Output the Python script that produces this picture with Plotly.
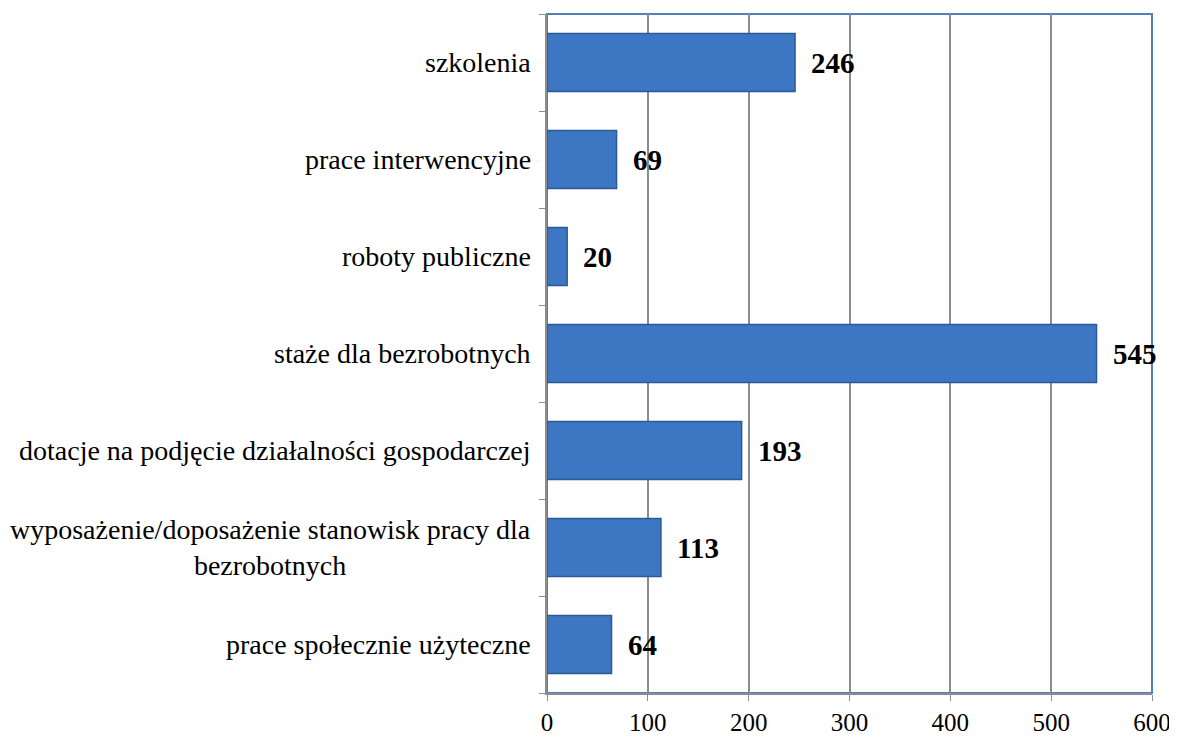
import plotly.graph_objects as go

# categories bottom -> top, as in the chart
kategorie = [
    "prace społecznie użyteczne",
    "wyposażenie/doposażenie stanowisk pracy dla<br>bezrobotnych",
    "dotacje na podjęcie działalności gospodarczej",
    "staże dla bezrobotnych",
    "roboty publiczne",
    "prace interwencyjne",
    "szkolenia",
]
liczba = [64, 113, 193, 545, 20, 69, 246]
x_ticks = [0, 100, 200, 300, 400, 500, 600]

font_name = "Liberation Serif, Times New Roman, serif"

fig = go.Figure()
fig.add_trace(go.Bar(
    x=liczba, y=kategorie, orientation="h", width=0.6,
    marker=dict(color="#3D77C3", line=dict(color="#2B5A94", width=1.5)),
    hoverinfo="x+y",
))

for k, v in zip(kategorie, liczba):
    # value labels, bold, a bit right of the bar end
    fig.add_annotation(x=v, y=k, text="<b>%d</b>" % v, showarrow=False,
                       xanchor="left", xshift=14,
                       font=dict(family=font_name, size=29, color="black"))
    # category labels (centered lines, right-aligned block)
    fig.add_annotation(x=0, xref="paper", y=k, text=k, showarrow=False,
                       xanchor="right", xshift=-14, align="center",
                       font=dict(family=font_name, size=28, color="black"))

# blue frame around the plot area
fig.add_shape(type="rect", xref="paper", yref="paper", x0=0, y0=0, x1=1, y1=1,
              line=dict(color="#4F81BD", width=2), layer="below")

# page body has an 8px margin, so the figure is a bit smaller than the window
fig.update_layout(
    width=1169, height=729,
    margin=dict(l=539, r=25, t=6, b=44),
    plot_bgcolor="white", paper_bgcolor="white",
    font=dict(family=font_name, size=28, color="black"),
    showlegend=False,
    bargap=0.4,
)
fig.update_xaxes(range=[0, 600], tickvals=x_ticks, showgrid=True, gridcolor="#8C8C8C",
                 gridwidth=1.5, showline=True, linecolor="#8C8C8C", linewidth=1.5,
                 ticks="outside", ticklen=6, tickcolor="#8C8C8C", zeroline=False,
                 tickfont=dict(size=25), automargin=False)
fig.update_yaxes(type="category", categoryorder="array", categoryarray=kategorie,
                 showgrid=False, showline=True, linecolor="#8C8C8C", linewidth=1.5,
                 ticks="outside", ticklen=6, tickcolor="#8C8C8C", tickson="boundaries",
                 showticklabels=False, automargin=False)

fig.write_html("out.html")
